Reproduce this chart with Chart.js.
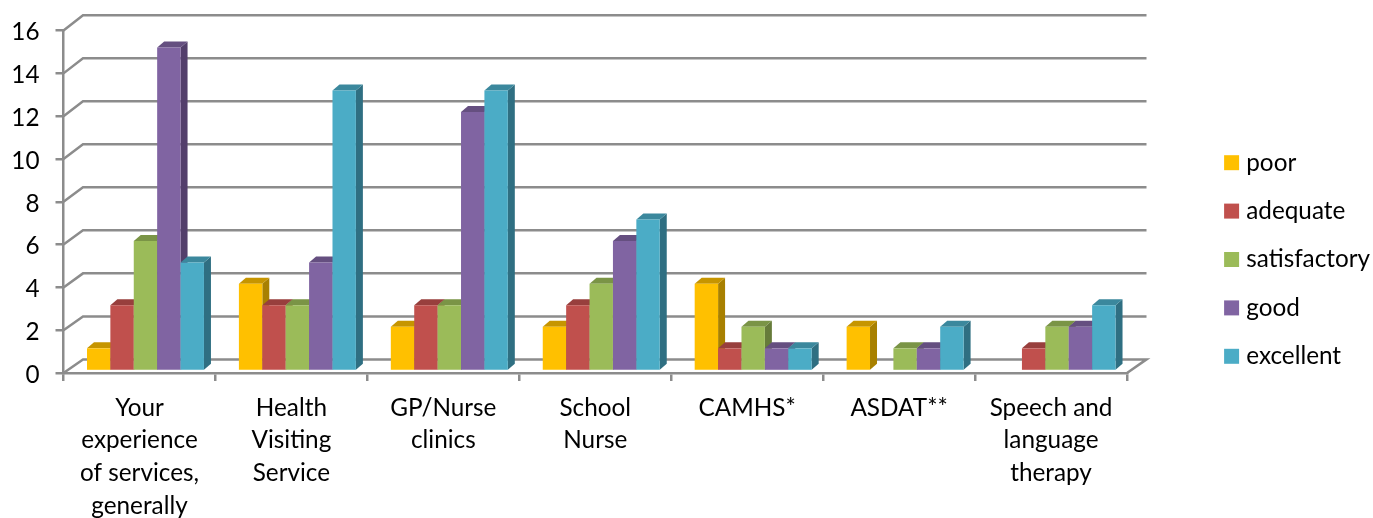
<!DOCTYPE html>
<html>
<head>
<meta charset="utf-8">
<title>Ratings of services</title>
<script src="https://cdn.jsdelivr.net/npm/chart.js@4"></script>
<style>
  html, body { margin: 0; padding: 0; background: #fff; }
  canvas { display: block; }
</style>
</head>
<body>
<canvas id="chart" width="1373" height="518"></canvas>
<script>
const categories = [
    ["Your", "experience", "of services,", "generally"],
    ["Health", "Visiting", "Service"],
    ["GP/Nurse", "clinics"],
    ["School", "Nurse"],
    "CAMHS*",
    "ASDAT**",
    ["Speech and", "language", "therapy"]
];
const poor =         [1, 4, 2, 2, 4, 2, 0];
const adequate =     [3, 3, 3, 3, 1, 0, 1];
const satisfactory = [6, 3, 3, 4, 2, 1, 2];
const good =         [15, 5, 12, 6, 1, 1, 2];
const excellent =    [5, 13, 13, 7, 1, 2, 3];

const FONT = "Lato";
const FONT_SIZE = 24.3;
const GRID = "#8c8c8c";

// bars sit a little behind the front plane of the axes
const BAR_SHIFT_X = 6;
const BAR_SHIFT_Y = -3.2;
// size of the side / top faces of a bar
const FACE_X = 7;
const FACE_Y = 6;
// the walls behind the bars
const WALL_X = 19.5;

function series(label, data, front, top, side) {
    return { label: label, data: data, backgroundColor: front, topColor: top, sideColor: side,
             yAxisID: "yBars", clip: false };
}

function drawWalls(chart) {
    const ctx = chart.ctx, y = chart.scales.y, a = chart.chartArea;
    ctx.save();
    ctx.strokeStyle = GRID;
    ctx.lineWidth = 2.5;
    y.ticks.forEach((t) => {
        const py = y.getPixelForValue(t.value);
        const depth = 13.6 + (a.bottom - py) * 0.005;
        ctx.beginPath();
        ctx.moveTo(a.left, py);
        ctx.lineTo(a.left + WALL_X, py - depth);
        ctx.lineTo(a.right + WALL_X, py - depth);
        if (t.value === 0) ctx.lineTo(a.right, py);
        ctx.stroke();
    });
    ctx.restore();
}

function drawFaces(ctx, meta, ds) {
    meta.data.forEach((el, i) => {
        if (!ds.data[i]) return;
        const p = el.getProps(["x", "y", "base", "width"], true);
        const l = p.x - p.width / 2, r = p.x + p.width / 2;
        ctx.fillStyle = ds.sideColor;
        ctx.beginPath();
        ctx.moveTo(r, p.y);
        ctx.lineTo(r + FACE_X, p.y - FACE_Y);
        ctx.lineTo(r + FACE_X, p.base - FACE_Y);
        ctx.lineTo(r, p.base);
        ctx.fill();
        ctx.fillStyle = ds.topColor;
        ctx.beginPath();
        ctx.moveTo(l, p.y);
        ctx.lineTo(l + FACE_X, p.y - FACE_Y);
        ctx.lineTo(r + FACE_X, p.y - FACE_Y);
        ctx.lineTo(r, p.y);
        ctx.fill();
    });
}

// the library paints the right hand series first, here each bar has to cover
// the side of the one on its left, so the series are painted the other way round
const bars3d = {
    id: "bars3d",
    beforeDatasetsDraw(chart) {
        const ctx = chart.ctx;
        drawWalls(chart);
        ctx.save();
        ctx.translate(BAR_SHIFT_X, BAR_SHIFT_Y);
        chart.getSortedVisibleDatasetMetas().forEach((meta) => {
            drawFaces(ctx, meta, chart.data.datasets[meta.index]);
            meta.controller.draw();
        });
        ctx.restore();
        return false;
    }
};

// legend keeps the space right of the plot, its entries pushed out to the right
const legendSpot = {
    id: "legendSpot",
    afterInit(chart) {
        const fit = chart.legend.fit;
        chart.legend.fit = function () {
            fit.call(this);
            this.width = 246;
        };
    },
    afterLayout(chart) {
        chart.legend.left = 1205;
        chart.legend.top = 0;
        chart.legend.bottom = 519;
    }
};

new Chart(document.getElementById("chart"), {
    type: "bar",
    data: {
        labels: categories,
        datasets: [
            series("poor", poor, "#FFC000", "#C69500", "#A88000"),
            series("adequate", adequate, "#C0504D", "#983F3D", "#7E3432"),
            series("satisfactory", satisfactory, "#9BBB59", "#7A9446", "#667B3A"),
            series("good", good, "#8064A2", "#654F80", "#533F6B"),
            series("excellent", excellent, "#4BACC6", "#3B889D", "#2F6F82")
        ]
    },
    plugins: [bars3d, legendSpot],
    options: {
        responsive: false,
        animation: false,
        devicePixelRatio: 1,
        layout: { padding: { top: 30 } },
        categoryPercentage: 0.77,
        barPercentage: 1,
        scales: {
            x: {
                grid: { drawOnChartArea: false, color: GRID, lineWidth: 2.5, tickLength: 8 },
                border: { color: GRID, width: 2.5 },
                ticks: { color: "#000", autoSkip: false, maxRotation: 0, padding: 10.5,
                         font: { family: FONT, size: FONT_SIZE, lineHeight: 1.345 } },
                afterFit(scale) { scale.height = 145; }
            },
            y: {
                min: 0,
                max: 16,
                grid: { drawOnChartArea: false, color: GRID, lineWidth: 2.5, tickLength: 8 },
                border: { color: GRID, width: 2.5 },
                ticks: { stepSize: 2, color: "#000", padding: 16, labelOffset: 2,
                         font: { family: FONT, size: FONT_SIZE } },
                afterFit(scale) { scale.width = 63.5; }
            },
            yBars: { display: false, min: 0, max: 15.94 }
        },
        plugins: {
            tooltip: { enabled: false },
            legend: {
                position: "right",
                labels: {
                    color: "#000",
                    usePointStyle: true,
                    pointStyle: "rect",
                    boxWidth: 5,
                    boxHeight: 15,
                    padding: 24.1,
                    font: { family: FONT, size: FONT_SIZE }
                }
            }
        }
    }
});
</script>
</body>
</html>
